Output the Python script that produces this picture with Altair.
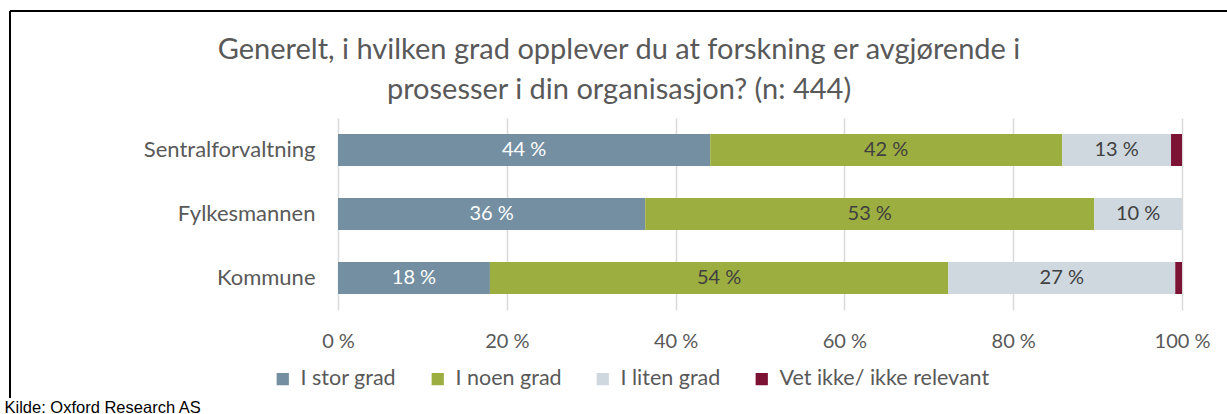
import altair as alt
import pandas as pd

categories = ["Sentralforvaltning", "Fylkesmannen", "Kommune"]
series = ["I stor grad", "I noen grad", "I liten grad", "Vet ikke/ ikke relevant"]
colors = ["#738FA1", "#9DAE41", "#CFD8DF", "#7C1234"]
values = {
    "I stor grad": [44.1, 36.4, 18.0],
    "I noen grad": [41.7, 53.2, 54.3],
    "I liten grad": [12.9, 10.4, 26.9],
    "Vet ikke/ ikke relevant": [1.3, 0.0, 0.8],
}
x_ticks = [0, 20, 40, 60, 80, 100]
title_lines = ["Generelt, i hvilken grad opplever du at forskning er avgjørende i",
               "prosesser i din organisasjon? (n: 444)"]
source = "Kilde: Oxford Research AS"

rows = []
for si, s in enumerate(series):
    for ci, c in enumerate(categories):
        rows.append({"cat": c, "series": s, "order": si, "value": values[s][ci]})
df = pd.DataFrame(rows)

FONT = "Lato"
GREY = "#595959"

base = alt.Chart(df).transform_stack(
    stack="value", groupby=["cat"], as_=["x0", "x1"], sort=[{"field": "order"}]
).transform_calculate(
    mid="(datum.x0 + datum.x1) / 2"
)

ycat = alt.Y("cat:N", sort=categories, title=None,
             scale=alt.Scale(paddingInner=0.5, paddingOuter=0.25),
             axis=alt.Axis(domain=False, ticks=False, labelFont=FONT, labelFontSize=22,
                           labelColor=GREY, labelPadding=23, grid=False))

bars = base.mark_bar().encode(
    x=alt.X("x0:Q", scale=alt.Scale(domain=[0, 100], nice=False), title=source,
            axis=alt.Axis(values=x_ticks, labelExpr="datum.value + ' %'", domain=False,
                          ticks=False, grid=True, gridColor="#D9D9D9", gridWidth=1.5,
                          labelFlush=False,
                          labelFont=FONT, labelFontSize=20, labelColor=GREY, labelPadding=21,
                          titleFont="Liberation Sans", titleFontSize=16.5, titleFontWeight="normal",
                          titleColor="#000000", titleX=-334, titleY=102, titleAlign="left",
                          titleAnchor="start", titleBaseline="alphabetic")),
    x2="x1:Q",
    y=ycat,
    color=alt.Color("series:N", sort=series,
                    scale=alt.Scale(domain=series, range=colors),
                    legend=alt.Legend(title=None, orient="none", direction="horizontal",
                                      legendX=-66, legendY=250, columns=4,
                                      symbolType="square", symbolSize=150, symbolStrokeWidth=0,
                                      labelFont=FONT, labelFontSize=21.5, labelColor=GREY,
                                      labelLimit=400, columnPadding=30, labelOffset=7)),
    order=alt.Order("order:Q"),
)

labels = base.transform_filter("datum.value >= 5").mark_text(
    font=FONT, fontSize=20, baseline="middle"
).encode(
    x=alt.X("mid:Q"),
    y=alt.Y("cat:N", sort=categories),
    text=alt.Text("label:N"),
    color=alt.condition("datum.order == 0", alt.value("#FFFFFF"), alt.value("#404040")),
).transform_calculate(label="format(datum.value, '.0f') + ' %'")

frame_df = pd.DataFrame({"k": [0]})
title = alt.Chart(frame_df).mark_text(
    text=title_lines, font=FONT, fontSize=29, color=GREY, lineHeight=40,
    baseline="alphabetic", align="center"
).encode(x=alt.value(281), y=alt.value(-59))
top_line = alt.Chart(frame_df).mark_rule(color="#000000", strokeWidth=2).encode(
    x=alt.value(-328), x2=alt.value(900), y=alt.value(-107))
left_line = alt.Chart(frame_df).mark_rule(color="#000000", strokeWidth=2).encode(
    x=alt.value(-328), y=alt.value(-107), y2=alt.value(280))

chart = alt.layer(bars, labels, title, top_line, left_line).properties(
    width=844, height=192,
    autosize=alt.AutoSizeParams(type="none"),
    padding={"left": 338, "top": 118, "right": 45, "bottom": 104},
).configure_view(stroke=None)

chart.save("out.html", embed_options={"renderer": "svg", "actions": False})
